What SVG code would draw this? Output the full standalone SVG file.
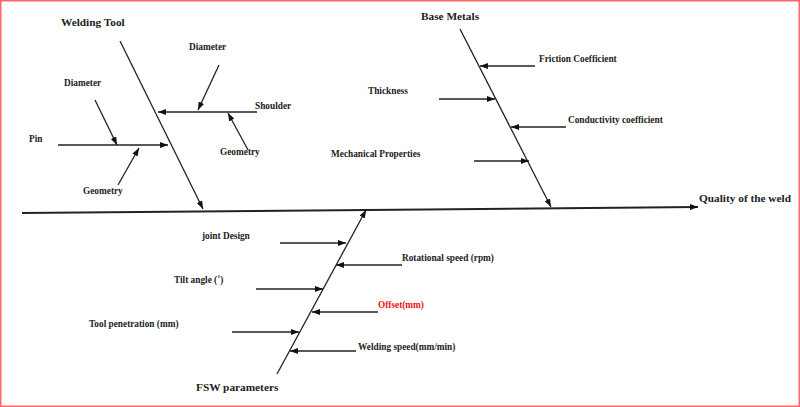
<svg xmlns="http://www.w3.org/2000/svg" width="800" height="407" viewBox="0 0 800 407">
<style>
text{font-family:"Liberation Serif","Times New Roman",serif;font-weight:bold;fill:#222}
.s{font-size:9.3px}
.h{font-size:11.3px}
.ln{stroke:#222;stroke-width:1.3;fill:none}
.sp{stroke:#222;stroke-width:2;fill:none}
</style>
<defs>
<marker id="ah" viewBox="0 0 8 6" refX="8" refY="3" markerWidth="8" markerHeight="6" markerUnits="userSpaceOnUse" orient="auto">
<path d="M0,0 L8,3 L0,6 z" fill="#111"/>
</marker>
</defs>
<rect x="0.75" y="0.75" width="798.5" height="405.5" fill="#fff" stroke="#ff6666" stroke-width="1.5"/>
<g id="connectors">
<line class="sp" x1="22" y1="213" x2="698" y2="207" marker-end="url(#ah)"/>
<line class="ln" x1="120" y1="41" x2="203" y2="209" marker-end="url(#ah)"/>
<line class="ln" x1="257" y1="112" x2="158" y2="112" marker-end="url(#ah)"/>
<line class="ln" x1="219" y1="65" x2="198" y2="110" marker-end="url(#ah)"/>
<line class="ln" x1="248" y1="150" x2="228" y2="113" marker-end="url(#ah)"/>
<line class="ln" x1="58" y1="145" x2="168" y2="145" marker-end="url(#ah)"/>
<line class="ln" x1="95" y1="100" x2="117" y2="145" marker-end="url(#ah)"/>
<line class="ln" x1="118" y1="185" x2="139" y2="148" marker-end="url(#ah)"/>
<line class="ln" x1="460" y1="29" x2="551" y2="207" marker-end="url(#ah)"/>
<line class="ln" x1="535" y1="66" x2="480" y2="66" marker-end="url(#ah)"/>
<line class="ln" x1="439" y1="99" x2="495" y2="99" marker-end="url(#ah)"/>
<line class="ln" x1="566" y1="127" x2="511" y2="127" marker-end="url(#ah)"/>
<line class="ln" x1="474" y1="161" x2="529" y2="161" marker-end="url(#ah)"/>
<line class="ln" x1="277" y1="374" x2="366" y2="210" marker-end="url(#ah)"/>
<line class="ln" x1="280" y1="243" x2="346" y2="243" marker-end="url(#ah)"/>
<line class="ln" x1="402" y1="265" x2="336" y2="265" marker-end="url(#ah)"/>
<line class="ln" x1="256" y1="289" x2="323" y2="289" marker-end="url(#ah)"/>
<line class="ln" x1="378" y1="312" x2="312" y2="312" marker-end="url(#ah)"/>
<line class="ln" x1="232" y1="332" x2="299" y2="332" marker-end="url(#ah)"/>
<line class="ln" x1="356" y1="351" x2="290" y2="351" marker-end="url(#ah)"/>
</g>
<g id="quality"><text class="h" x="699" y="202">Quality of the weld</text></g>
<g id="welding-tool"><text class="h" x="61" y="25.5">Welding Tool</text></g>
<g id="shoulder-diameter"><text class="s" x="189" y="50">Diameter</text></g>
<g id="shoulder"><text class="s" x="255" y="109">Shoulder</text></g>
<g id="shoulder-geometry"><text class="s" x="220" y="155">Geometry</text></g>
<g id="pin-diameter"><text class="s" x="64" y="86">Diameter</text></g>
<g id="pin"><text class="s" x="29" y="142">Pin</text></g>
<g id="pin-geometry"><text class="s" x="83" y="194">Geometry</text></g>
<g id="base-metals"><text class="h" x="421" y="19.5">Base Metals</text></g>
<g id="friction"><text class="s" x="539" y="62">Friction Coefficient</text></g>
<g id="thickness"><text class="s" x="368" y="94">Thickness</text></g>
<g id="conductivity"><text class="s" x="568" y="123">Conductivity coefficient</text></g>
<g id="mechanical"><text class="s" x="331" y="157">Mechanical Properties</text></g>
<g id="fsw"><text class="h" x="196" y="391">FSW parameters</text></g>
<g id="joint-design"><text class="s" x="202" y="239">joint Design</text></g>
<g id="rotational"><text class="s" x="402" y="261">Rotational speed (rpm)</text></g>
<g id="tilt"><text class="s" x="174" y="283">Tilt angle (˚)</text></g>
<g id="offset"><text class="s" x="378" y="308" style="fill:#ee1111">Offset(mm)</text></g>
<g id="penetration"><text class="s" x="89" y="327">Tool penetration (mm)</text></g>
<g id="welding-speed"><text class="s" x="358" y="350">Welding speed(mm/min)</text></g>
</svg>
